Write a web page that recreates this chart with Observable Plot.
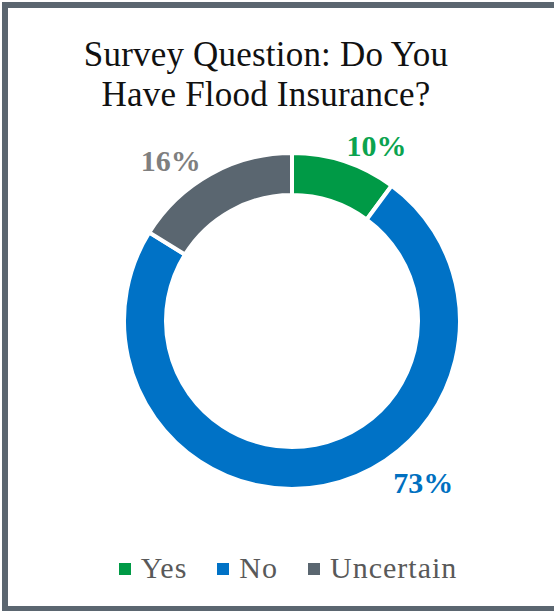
<!DOCTYPE html>
<html>
<head>
<meta charset="utf-8">
<script src="https://cdn.jsdelivr.net/npm/d3@7"></script>
<script src="https://cdn.jsdelivr.net/npm/@observablehq/plot@0.6"></script>
<style>
  html, body { margin: 0; padding: 0; background: #fff; width: 554px; height: 611px; overflow: hidden; }
  #frame { position: absolute; left: 2px; top: 2px; width: 620px; height: 610px; box-sizing: border-box;
           border: 6px solid #5b6670; }
  #title { position: absolute; left: 0; top: 35px; width: 532px; text-align: center;
           font-family: "Liberation Serif", serif; font-size: 35px; line-height: 40px; color: #111;
           letter-spacing: 0.2px; }
  #chart { position: absolute; left: 0; top: 121px; }
  #legend { position: absolute; left: 0; top: 553px; width: 576px; display: flex; justify-content: center;
            font-family: "Liberation Serif", serif; font-size: 30px; line-height: 30px; color: #595959;
            letter-spacing: 1px; }
  .item { display: flex; align-items: center; margin: 0 15px; }
  .sw { width: 12px; height: 12px; margin-right: 10px; margin-top: 2px; }
</style>
</head>
<body>
<div id="frame"></div>
<div id="title">Survey Question: Do You<br>Have Flood Insurance?</div>
<div id="chart"></div>
<div id="legend"></div>
<script>
// ---- data ----
const categories = ["Yes", "No", "Uncertain"];
const values = [10, 73, 16];
const labels = ["10%", "73%", "16%"];

// ---- styles ----
const sliceColors = ["#009a46", "#0072c6", "#5a6670"];
const labelColors = ["#0ba34f", "#0070c0", "#7f7f7f"];

const rows = categories.map((c, i) => ({category: c, value: values[i], label: labels[i]}));
const arcs = d3.pie().sort(null).value(d => d.value)(rows);

const innerRatio = 0.75;
const labelR = 1.03, halfW = 0.179, halfH = 0.0625;
const nudge = {No: [0.404, 0.113], Uncertain: [-0.045, -0.01]};
const labelData = arcs.map(a => {
  const m = (a.startAngle + a.endAngle) / 2;
  const s = Math.sin(m), c = Math.cos(m);
  let x = labelR * s + Math.sign(s) * halfW;
  let y = labelR * c + Math.sign(c) * halfH;
  const n = nudge[a.data.category];
  if (n) { x += n[0]; y += n[1]; }
  return {category: a.data.category, label: a.data.label, x, y};
});

function donut(index, scales) {
  const cx = scales.x(0), cy = scales.y(0);
  const R = scales.x(1) - scales.x(0);
  const arc = d3.arc().outerRadius(R).innerRadius(R * innerRatio);
  const g = d3.create("svg:g").attr("transform", `translate(${cx},${cy})`);
  g.selectAll("path").data(arcs).join("path")
    .attr("d", arc)
    .attr("fill", d => sliceColors[categories.indexOf(d.data.category)])
    .attr("stroke", "#fff")
    .attr("stroke-width", 4)
    .attr("stroke-linejoin", "miter");
  return g.node();
}

const plot = Plot.plot({
  width: 554,
  height: 400,
  margin: 0,
  style: {background: "transparent", overflow: "visible"},
  x: {domain: [-1, 1], range: [124, 460], axis: null},
  y: {domain: [-1, 1], range: [368, 32], axis: null},
  color: {type: "ordinal", domain: categories, range: labelColors},
  marks: [
    donut,
    Plot.text(labelData, {
      x: "x", y: "y", text: "label", fill: "category",
      fontFamily: "Liberation Serif", fontSize: 30, fontWeight: "bold",
      textAnchor: "middle", lineAnchor: "middle"
    })
  ]
});
document.getElementById("chart").appendChild(plot);

const legend = document.getElementById("legend");
categories.forEach((c, i) => {
  const it = document.createElement("div");
  it.className = "item";
  const sw = document.createElement("div");
  sw.className = "sw";
  sw.style.background = sliceColors[i];
  const tx = document.createElement("span");
  tx.textContent = c;
  it.appendChild(sw); it.appendChild(tx);
  legend.appendChild(it);
});
</script>
</body>
</html>
